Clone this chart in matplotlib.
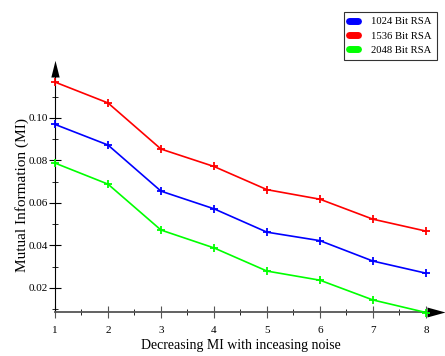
import matplotlib
matplotlib.use('Agg')
import matplotlib.pyplot as plt
from matplotlib.lines import Line2D
from matplotlib.ticker import MultipleLocator

plt.rcParams['font.family'] = 'Liberation Serif'

noise = [1, 2, 3, 4, 5, 6, 7, 8]
rsa_1024 = [0.0969, 0.0872, 0.0655, 0.0572, 0.0462, 0.0422, 0.0326, 0.0269]
rsa_1536 = [0.1168, 0.1070, 0.0853, 0.0771, 0.0662, 0.0617, 0.0523, 0.0467]
rsa_2048 = [0.0787, 0.0688, 0.0472, 0.0388, 0.0279, 0.0236, 0.0143, 0.0084]
names = ['1024 Bit RSA', '1536 Bit RSA', '2048 Bit RSA']
colors = ['#0000ff', '#ff0000', '#00ff00']

fig = plt.figure(figsize=(4.45, 3.56), dpi=100)
ax = fig.add_axes([55 / 445, 43.7 / 356, 372 / 445, 235.3 / 356])

for vals, c in zip([rsa_1024, rsa_1536, rsa_2048], colors):
    ax.plot(noise, vals, color=c, lw=1.2, marker='+', ms=6, mew=1.3, clip_on=False, zorder=3)

ax.set_xlim(1, 8.02)
ax.set_ylim(0.0085, 0.1192)
ax.spines['top'].set_visible(False)
ax.spines['right'].set_visible(False)
ax.spines['left'].set_color('black')
ax.spines['bottom'].set_color('#555555')
ax.spines['bottom'].set_linewidth(1.3)

ax.xaxis.set_major_locator(MultipleLocator(1))
ax.xaxis.set_minor_locator(MultipleLocator(0.5))
ax.yaxis.set_minor_locator(MultipleLocator(0.01))
ax.set_yticks([0.02, 0.04, 0.06, 0.08, 0.10])
ax.set_yticklabels(['0.02', '0.04', '0.06', '0.08', '0.10'])
ax.tick_params(axis='both', which='major', direction='inout', length=8, labelsize=8)
ax.tick_params(axis='both', which='minor', direction='inout', length=5)
ax.tick_params(axis='x', colors='#555555', labelcolor='black', pad=6)
ax.tick_params(axis='y', pad=1)

# arrow heads on the axes
ax.plot(0, 1, marker=[(-1, 0), (1, 0), (0, 4)], ms=24, color='black', mew=0,
        transform=ax.transAxes, clip_on=False)
ax.plot(1, 0, marker=[(0, -1.1), (0, 1.1), (4, 0)], ms=26, color='black', mew=0,
        transform=ax.transAxes, clip_on=False)

ax.set_xlabel('Decreasing MI with inceasing noise', fontsize=10, labelpad=3)
ax.set_ylabel('Mutual Information (MI)', fontsize=11, labelpad=0)

handles = [Line2D([0], [0], color=c, lw=5, solid_capstyle='round') for c in colors]
leg = fig.legend(handles, names, loc='upper left', bbox_to_anchor=(344 / 445, 1 - 12 / 356),
                 fontsize=7.7, frameon=True, fancybox=False, handlelength=0.9,
                 borderpad=0.45, labelspacing=0.45, handletextpad=1.2, borderaxespad=0)
leg.get_frame().set_edgecolor('black')
leg.get_frame().set_linewidth(0.8)

fig.savefig('out.png', dpi=100)
